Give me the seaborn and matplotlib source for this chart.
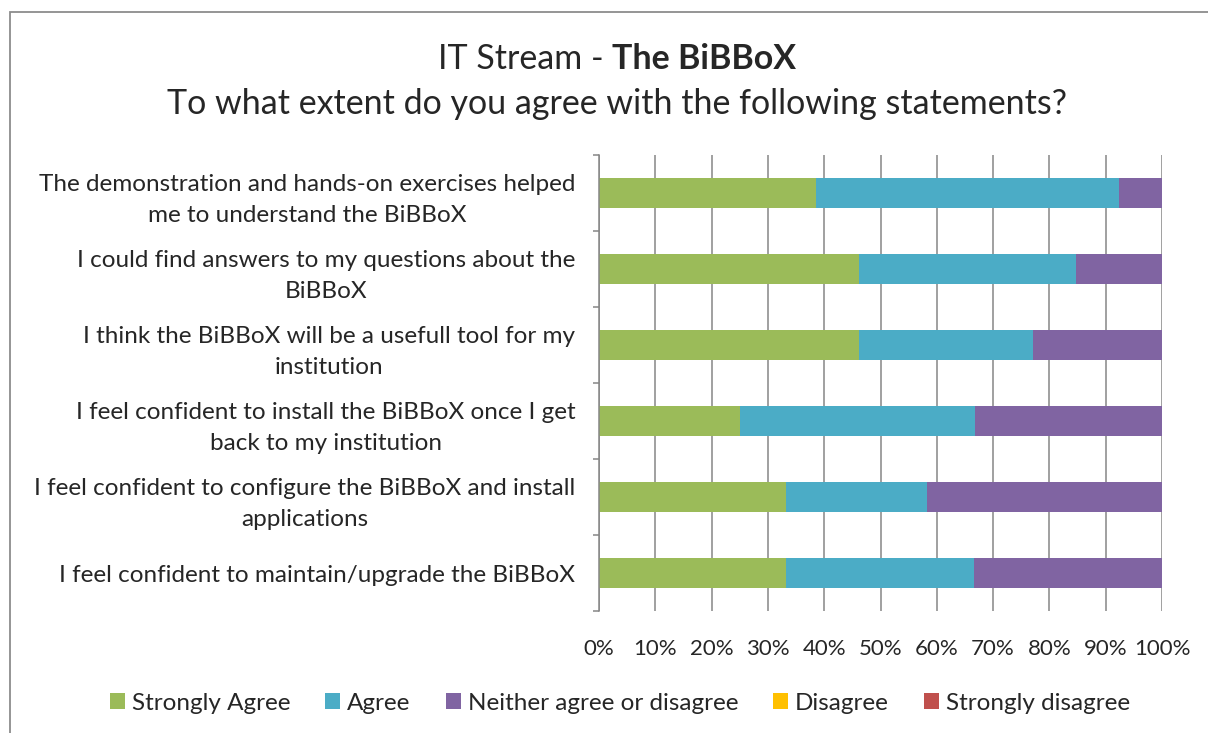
import matplotlib
matplotlib.use("Agg")
import matplotlib.pyplot as plt
import seaborn as sns
import pandas as pd
import numpy as np
from matplotlib.patches import Patch, Rectangle

# ---- data ----
statements = [
    "The demonstration and hands-on exercises helped\nme to understand the BiBBoX",
    "I could find answers to my questions about the\nBiBBoX",
    "I think the BiBBoX will be a usefull tool for my\ninstitution",
    "I feel confident to install the BiBBoX once I get\nback to my institution",
    "I feel confident to configure the BiBBoX and install\napplications",
    "I feel confident to maintain/upgrade the BiBBoX",
]
series_names = ["Strongly Agree", "Agree", "Neither agree or disagree", "Disagree", "Strongly disagree"]
strongly_agree = [38.5, 46.2, 46.2, 25.0, 33.3, 33.3]
agree = [53.8, 38.5, 30.8, 41.7, 25.0, 33.3]
neither = [7.7, 15.4, 23.1, 33.3, 41.7, 33.4]
disagree = [0, 0, 0, 0, 0, 0]
strongly_disagree = [0, 0, 0, 0, 0, 0]
colors = ["#9BBB59", "#4BACC6", "#8064A2", "#FFC000", "#C0504D"]
xtick_values = list(range(0, 101, 10))
xtick_labels = [f"{v}%" for v in xtick_values]

sns.set_theme(style="white")
plt.rcParams["font.family"] = ["Lato", "DejaVu Sans"]

fig = plt.figure(figsize=(12.08, 7.33), dpi=100)
ax = fig.add_axes([599 / 1208, 1 - 611 / 733, (1162 - 599) / 1208, (611 - 155) / 733])

series = [strongly_agree, agree, neither, disagree, strongly_disagree]
cum = np.cumsum(np.array(series, dtype=float), axis=0)
# draw from outermost (cumulative) to innermost so each segment shows
for i in range(len(series) - 1, -1, -1):
    df = pd.DataFrame({"statement": statements, "value": cum[i]})
    sns.barplot(data=df, x="value", y="statement", orient="h", color=colors[i],
                width=0.4, linewidth=0, saturation=1, ax=ax, zorder=2)

gridc = "#868686"
ax.set_xlim(0, 100)
ax.set_ylim(5.5, -0.5)
ax.set_xticks(xtick_values)
ax.set_xticklabels(xtick_labels, fontsize=16)
ax.xaxis.grid(True, color=gridc, linewidth=1.1, zorder=0)
ax.set_axisbelow(True)
ax.set_xlabel("")
ax.set_ylabel("")
ax.tick_params(axis="x", length=0, pad=20)
ax.tick_params(axis="y", which="major", length=0, pad=17, labelsize=17.5)
ax.set_yticks(np.arange(-0.5, 6.0, 1.0), minor=True)
ax.tick_params(axis="y", which="minor", length=4.5, width=1.1, color=gridc, direction="out", left=True)
for lab in ax.get_yticklabels():
    lab.set_multialignment("center")
    lab.set_linespacing(1.58)
for s in ["top", "right", "bottom"]:
    ax.spines[s].set_visible(False)
ax.spines["left"].set_color(gridc)
ax.spines["left"].set_linewidth(1.1)

# title (mixed weight)
fig.canvas.draw()
r = fig.canvas.get_renderer()
t1 = fig.text(0, 1 - 59 / 733, "IT Stream - ", fontsize=24.5, va="center", ha="left")
t2 = fig.text(0, 1 - 59 / 733, "The BiBBoX", fontsize=24.5, fontweight="bold", va="center", ha="left")
w1 = t1.get_window_extent(r).width
w2 = t2.get_window_extent(r).width
cx = 617
x0 = cx - (w1 + w2) / 2
t1.set_x(x0 / 1208)
t2.set_x((x0 + w1) / 1208)
fig.text(cx / 1208, 1 - 104 / 733, "To what extent do you agree with the following statements?",
         fontsize=24.5, ha="center", va="center")

# legend
handles = [Patch(facecolor=c, edgecolor="none", label=n) for c, n in zip(colors, series_names)]
fig.legend(handles=handles, loc="center", bbox_to_anchor=(620 / 1208, 1 - 703 / 733), ncol=5,
           frameon=False, fontsize=17.5, handlelength=0.62, handleheight=0.62, handletextpad=0.28,
           columnspacing=1.45)

# chart border
fig.patches.append(Rectangle((10 / 1208, -0.1), 1.2, 1.1 - 12 / 733, transform=fig.transFigure,
                             fill=False, edgecolor="#8C8C8C", linewidth=1.3, clip_on=False))

fig.savefig("out.png", dpi=100)
